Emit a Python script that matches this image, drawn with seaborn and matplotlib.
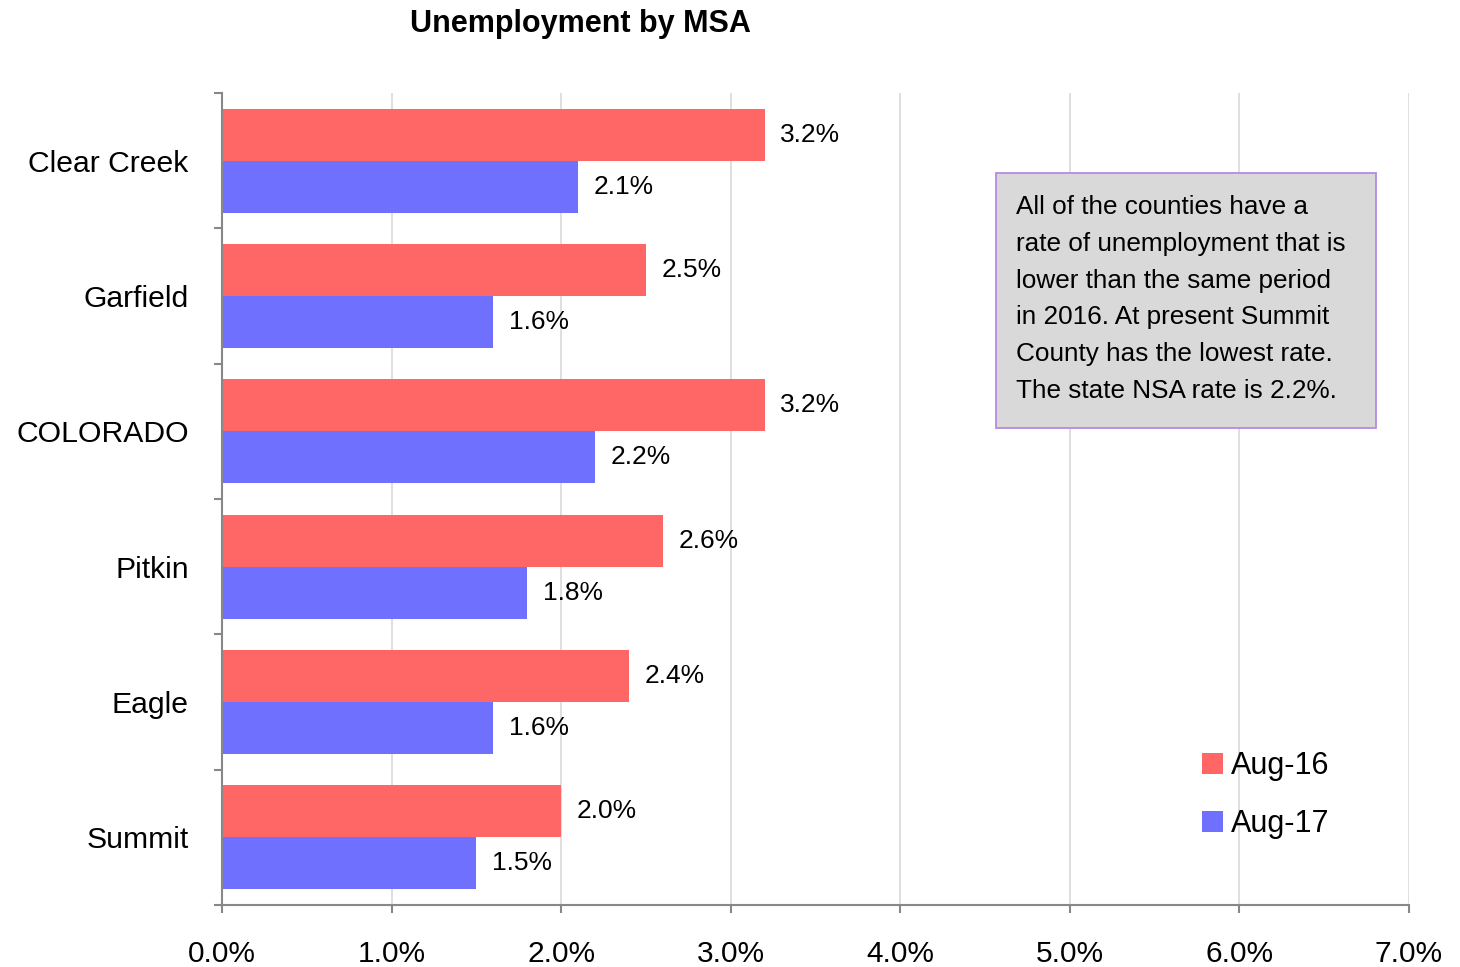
import matplotlib
matplotlib.use("Agg")
import matplotlib.pyplot as plt
import seaborn as sns
import pandas as pd
from matplotlib.patches import Patch, Rectangle

categories = ["Clear Creek", "Garfield", "COLORADO", "Pitkin", "Eagle", "Summit"]
aug16 = [3.2, 2.5, 3.2, 2.6, 2.4, 2.0]
aug17 = [2.1, 1.6, 2.2, 1.8, 1.6, 1.5]
series_names = ["Aug-16", "Aug-17"]
xticks = [0, 1, 2, 3, 4, 5, 6, 7]
title = "Unemployment by MSA"
note = ("All of the counties have a\nrate of unemployment that is\nlower than the same period\n"
        "in 2016. At present Summit\nCounty has the lowest rate.\nThe state NSA rate is 2.2%.")

colors = {"Aug-16": "#ff6666", "Aug-17": "#7070ff"}

df = pd.DataFrame({
    "cat": categories * 2,
    "series": [series_names[0]] * len(categories) + [series_names[1]] * len(categories),
    "val": aug16 + aug17,
})

sns.set_style("white")
plt.rcParams['font.family'] = ['Liberation Sans', 'DejaVu Sans']
plt.rcParams['text.color'] = 'black'
plt.rcParams['xtick.color'] = 'black'
plt.rcParams['ytick.color'] = 'black'

fig = plt.figure(figsize=(14.6, 9.67), dpi=100)
ax = fig.add_axes([222/1460, 1-905/967, (1409-222)/1460, (905-93)/967])

sns.barplot(data=df, y="cat", x="val", hue="series", order=categories,
            hue_order=series_names, palette=colors, orient="h", width=0.77,
            ax=ax, legend=False, edgecolor="none", saturation=1)

for cont in ax.containers:
    labels = [f"{v:.1f}%" for v in cont.datavalues]
    ax.bar_label(cont, labels=labels, padding=11, fontsize=19, color="black")

ax.set_xlim(0, 7)
ax.set_ylim(len(categories) - 0.5, -0.5)
ax.set_xticks(xticks)
ax.set_xticklabels([f"{t:.1f}%" for t in xticks], fontsize=21.5)
ax.set_xlabel("")
ax.set_ylabel("")

ax.set_yticks(range(len(categories)))
ax.set_yticklabels(categories, fontsize=21.7)
ax.tick_params(axis="y", which="major", left=True, length=0, pad=24)
ax.set_yticks([i - 0.5 for i in range(len(categories) + 1)], minor=True)
ax.tick_params(axis="y", which="minor", left=True, length=6, color="#888888", width=1.5,
               direction="out")
ax.tick_params(axis="x", which="major", bottom=True, length=6, color="#888888", width=1.5,
               direction="out", pad=19)

ax.grid(axis="x", color="#d9d9d9", linewidth=1.2)
ax.set_axisbelow(True)
for s in ["top", "right"]:
    ax.spines[s].set_visible(False)
for s in ["left", "bottom"]:
    ax.spines[s].set_color("#888888")
    ax.spines[s].set_linewidth(1.5)

handles = [Patch(facecolor=colors[n], edgecolor="none") for n in series_names]
ax.legend(handles, series_names, loc="upper left", bbox_to_anchor=(1202/1460, 1-751/967),
          bbox_transform=fig.transFigure, frameon=False, fontsize=22, borderpad=0,
          borderaxespad=0, handlelength=0.68, handleheight=0.68, handletextpad=0.27,
          labelspacing=0.91)

fig.text(580/1460, 1-24/967, title, ha="center", va="center", fontsize=22, fontweight="bold")

fig.add_artist(Rectangle((996/1460, 1-428/967), (1376-996)/1460, (428-173)/967,
                         transform=fig.transFigure, facecolor="#d9d9d9",
                         edgecolor="#b48ce0", linewidth=1.3))
fig.text(1016/1460, 1-299/967, note, ha="left", va="center", fontsize=18.8, linespacing=1.68)

fig.savefig("out.png", dpi=100)
